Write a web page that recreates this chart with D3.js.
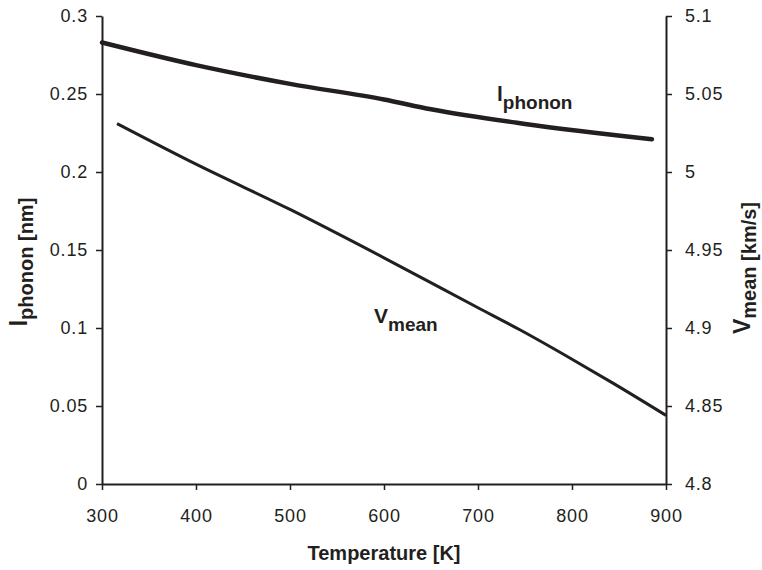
<!DOCTYPE html>
<html><head><meta charset="utf-8">
<script src="https://cdn.jsdelivr.net/npm/d3@7"></script>
<style>body{margin:0;background:#fff}svg{display:block}text{font-family:"Liberation Sans",Arial,Helvetica,sans-serif;fill:#231f20}</style>
</head><body><svg id="c" width="762" height="570"></svg>
<script>
const temps = [300,400,500,600,650,750,885];
const lphonon = [0.283,0.2685,0.2565,0.2465,0.2402,0.2308,0.221];
const vTemps = [316,400,500,600,700,745,800,844,900];
const vmean = [5.031,5.005,4.976,4.945,4.913,4.8987,4.880,4.8645,4.844];
const xTicks = [300,400,500,600,700,800,900];
const leftTicks = [0,0.05,0.1,0.15,0.2,0.25,0.3];
const rightTicks = [4.8,4.85,4.9,4.95,5,5.05,5.1];

const svg = d3.select("#c");
const col = "#231f20";
const L = 102, R = 666, T = 16, B = 484;
const x = d3.scaleLinear().domain([300,900]).range([L,R]);
const yL = d3.scaleLinear().domain([0,0.3]).range([B,T]);
const yR = d3.scaleLinear().domain([4.8,5.1]).range([B,T]);

function style(g){
  g.selectAll("path.domain").attr("stroke",col).attr("stroke-width",2);
  g.selectAll(".tick line").attr("stroke",col).attr("stroke-width",1.5);
  g.selectAll(".tick text").attr("font-size",18).attr("fill",col)
    .style("letter-spacing","0.8px").style("font-family","'Liberation Sans',Arial,sans-serif");
}
const gx = svg.append("g").attr("transform",`translate(0,${B})`)
  .call(d3.axisBottom(x).tickValues(xTicks).tickFormat(d3.format("d")).tickSize(6).tickSizeOuter(0).tickPadding(19));
style(gx);
const gl = svg.append("g").attr("transform",`translate(${L},0)`)
  .call(d3.axisLeft(yL).tickValues(leftTicks).tickFormat(d=>String(d)).tickSize(6).tickSizeOuter(0).tickPadding(8));
style(gl);
const gr = svg.append("g").attr("transform",`translate(${R},0)`)
  .call(d3.axisRight(yR).tickValues(rightTicks).tickFormat(d=>String(d)).tickSize(6).tickSizeOuter(0).tickPadding(13));
style(gr);

const lineL = d3.line().x((d,i)=>x(temps[i])).y(d=>yL(d)).curve(d3.curveMonotoneX);
svg.append("path").attr("d",lineL(lphonon)).attr("fill","none").attr("stroke",col).attr("stroke-width",4.5).attr("stroke-linecap","round");
const lineR = d3.line().x((d,i)=>x(vTemps[i])).y(d=>yR(d)).curve(d3.curveMonotoneX);
svg.append("path").attr("d",lineR(vmean)).attr("fill","none").attr("stroke",col).attr("stroke-width",3);

function label(g, main, sub, x0, y0, fMain, fSub, dy){
  const t = g.append("text").attr("x",x0).attr("y",y0).attr("font-weight","bold");
  t.append("tspan").attr("font-size",fMain).text(main);
  t.append("tspan").attr("font-size",fSub).attr("dy",dy).text(sub);
  return t;
}
label(svg,"l","phonon",497,101,21,19,8);
label(svg,"V","mean",374,323,21,19,8);

svg.append("text").attr("x",(L+R)/2).attr("y",560).attr("text-anchor","middle")
  .attr("font-weight","bold").attr("font-size",20).text("Temperature [K]");

const lt = svg.append("text").attr("transform","translate(27,262) rotate(-90)").attr("text-anchor","middle").attr("font-weight","bold");
lt.append("tspan").attr("font-size",23).text("l");
lt.append("tspan").attr("font-size",20).attr("dy",6).text("phonon [nm]");

const rt = svg.append("text").attr("transform","translate(750,268) rotate(-90)").attr("text-anchor","middle").attr("font-weight","bold");
rt.append("tspan").attr("font-size",23).text("V");
rt.append("tspan").attr("font-size",20).attr("dy",6).text("mean [km/s]");
</script></body></html>
